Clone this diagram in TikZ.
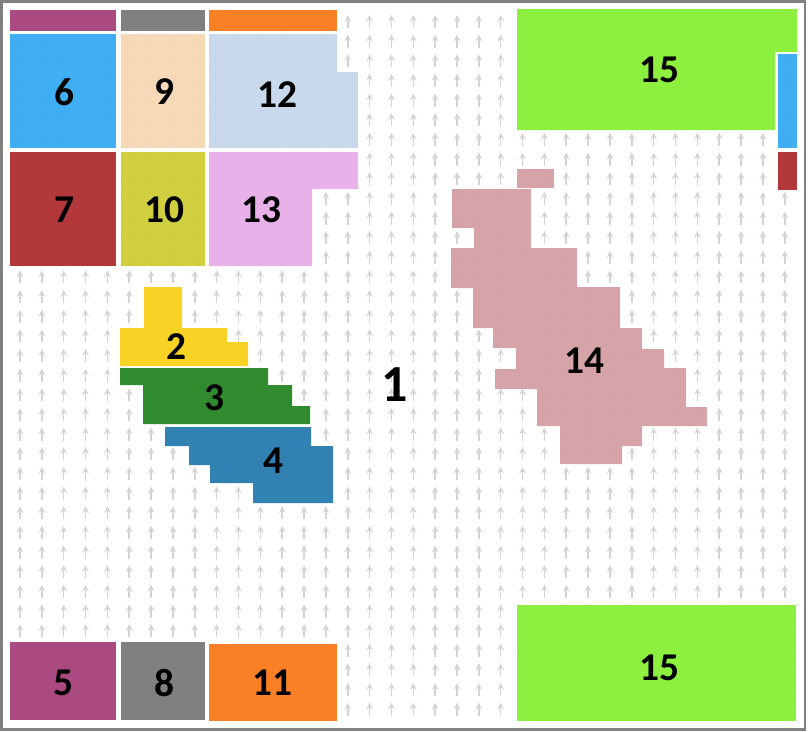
\documentclass[tikz,border=0pt]{standalone}
\usepackage{fontspec}
\setmainfont{Carlito}
\usetikzlibrary{arrows}

\definecolor{myPurple}{HTML}{A8457D}
\definecolor{myGrey}{HTML}{7C7C7C}
\definecolor{myOrange}{HTML}{F97C1E}
\definecolor{myBlue}{HTML}{3AACF2}
\definecolor{myPeach}{HTML}{F6D8B4}
\definecolor{mySky}{HTML}{C6D8EB}
\definecolor{myRed}{HTML}{B03234}
\definecolor{myOlive}{HTML}{CECE3A}
\definecolor{myPink}{HTML}{E8AFEA}
\definecolor{myGreen}{HTML}{8AF038}
\definecolor{myRose}{HTML}{D4A1A6}
\definecolor{myYellow}{HTML}{F8D21E}
\definecolor{myForest}{HTML}{2A8828}
\definecolor{mySteel}{HTML}{2B7EB0}

\begin{document}
\begin{tikzpicture}[x=0.25mm,y=-0.25mm]
\tikzset{myFont/.style={font=\fontsize{28}{30}\selectfont\bfseries}}
\tikzset{myBigFont/.style={font=\fontsize{37}{40}\selectfont\bfseries}}
\tikzset{myLabel/.style={myFont,text=black,inner sep=0pt}}
\tikzset{myArrow/.style={draw=black!17,line width=0.38mm,-stealth}}
\tikzset{myArea/.style={fill opacity=0.97}}

\useasboundingbox (0,0) rectangle (808,732);
\fill[white] (0,0) rectangle (808,732);

% grey arrows of the background
\foreach \i in {0,...,35}
  \foreach \j in {0,...,35}
    \draw[myArrow] (20+21.85*\i,28+19.65*\j) -- (20+21.85*\i,15+19.65*\j);

% frame
\draw[black!50,line width=0.7mm] (1.5,1.5) rectangle (805,729.5);

% top strips
\fill[myArea,myPurple] (10,10) rectangle (116,31);
\fill[myArea,myGrey] (121,10) rectangle (205,31);
\fill[myArea,myOrange] (209,10) rectangle (337,31);

% upper blocks
\fill[myArea,myBlue] (10,34) rectangle (116,148);
\fill[myArea,myPeach] (121,34) rectangle (205,148);
\fill[myArea,mySky] (209,34) -- (337,34) -- (337,72) -- (358,72) -- (358,148) -- (209,148) -- cycle;
\fill[myArea,myRed] (10,152) rectangle (116,266);
\fill[myArea,myOlive] (121,152) rectangle (205,266);
\fill[myArea,myPink] (209,152) -- (358,152) -- (358,189) -- (312,189) -- (312,266) -- (209,266) -- cycle;

% lower blocks
\fill[myArea,myPurple] (10,642) rectangle (116,720);
\fill[myArea,myGrey] (121,642) rectangle (205,720);
\fill[myArea,myOrange] (209,644) rectangle (337,721);

% green blocks and the strips on the right
\fill[myArea,myGreen] (517,9) -- (797,9) -- (797,52) -- (775,52) -- (775,130) -- (517,130) -- cycle;
\fill[myArea,myGreen] (517,605) rectangle (796,721);
\fill[myArea,myBlue] (778,54) rectangle (797,148);
\fill[myArea,myRed] (778,152) rectangle (797,190);

% middle areas
\fill[myArea,myYellow] (144,287) -- (182,287) -- (182,328) -- (227,328) -- (227,342) -- (248,342) -- (248,366) -- (120,366) -- (120,328) -- (144,328) -- cycle;
\fill[myArea,myForest] (120,368) -- (268,368) -- (268,385) -- (292,385) -- (292,406) -- (310,406) -- (310,424) -- (143,424) -- (143,385) -- (120,385) -- cycle;
\fill[myArea,mySteel] (165,427) -- (311,427) -- (311,446) -- (333,446) -- (333,503) -- (253,503) -- (253,483) -- (210,483) -- (210,465) -- (189,465) -- (189,446) -- (165,446) -- cycle;

% area on the right
\fill[myArea,myRose] (517,169) rectangle (554,188);
\fill[myArea,myRose] (452,189) -- (531,189) -- (531,248) -- (577,248) -- (577,287) -- (620,287) -- (620,328) -- (642,328) -- (642,349) -- (664,349) -- (664,368) -- (686,368) -- (686,407) -- (707,407) -- (707,426) -- (642,426) -- (642,446) -- (622,446) -- (622,464) -- (560,464) -- (560,426) -- (537,426) -- (537,389) -- (495,389) -- (495,369) -- (516,369) -- (516,348) -- (493,348) -- (493,328) -- (473,328) -- (473,288) -- (451,288) -- (451,248) -- (474,248) -- (474,228) -- (452,228) -- cycle;

% labels
\node[myLabel] (n6) at (64,92) {6};
\node[myLabel] (n9) at (164,92) {9};
\node[myLabel] (n12) at (277,95) {12};
\node[myLabel] (n7) at (64,210) {7};
\node[myLabel] (n10) at (164,210) {10};
\node[myLabel] (n13) at (261,210) {13};
\node[myLabel] (n2) at (176,347) {2};
\node[myLabel] (n3) at (214,398) {3};
\node[myLabel] (n4) at (273,461) {4};
\node[myLabel,myBigFont] (n1) at (395,385) {1};
\node[myLabel] (n14) at (584,361) {14};
\node[myLabel] (n15a) at (659,70) {15};
\node[myLabel] (n15b) at (659,668) {15};
\node[myLabel] (n5) at (63,683) {5};
\node[myLabel] (n8) at (164,683) {8};
\node[myLabel] (n11) at (272,683) {11};
\end{tikzpicture}
\end{document}
